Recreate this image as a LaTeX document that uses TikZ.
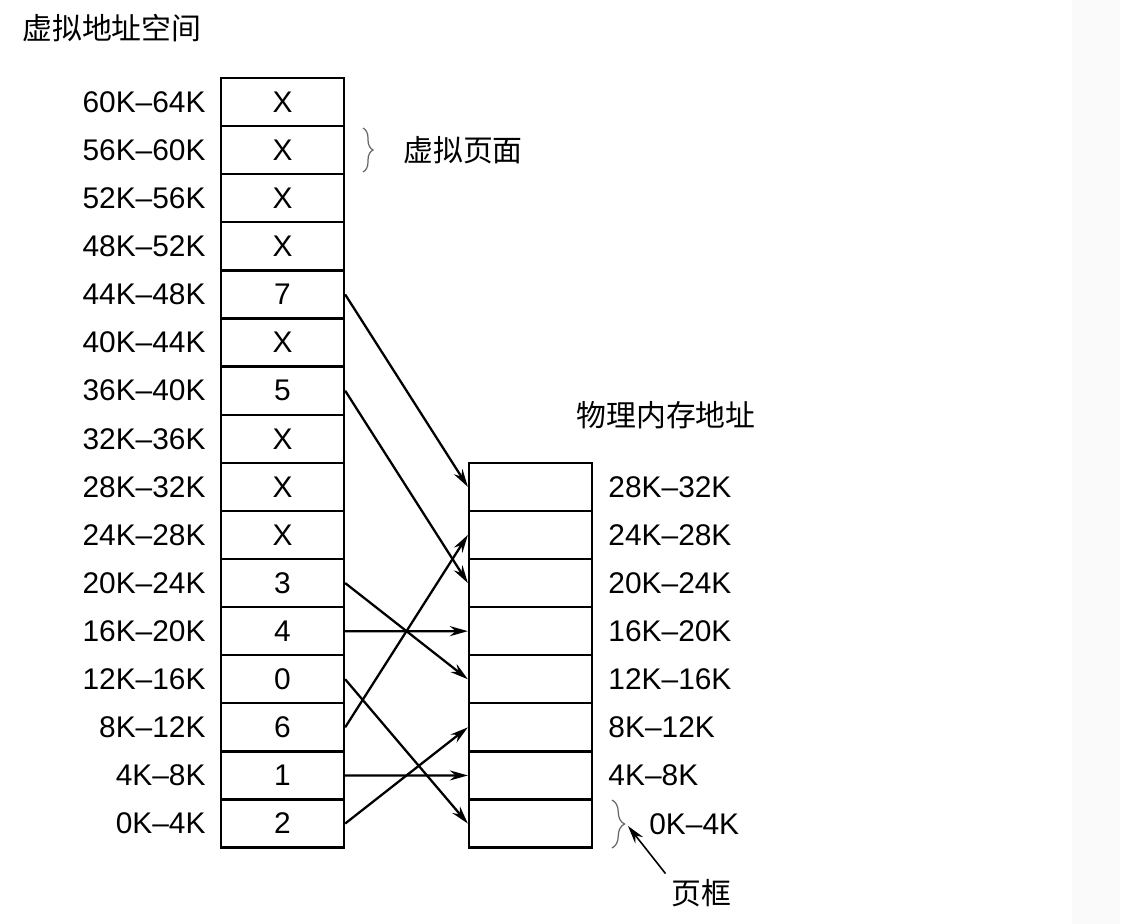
\documentclass[tikz,border=0pt]{standalone}
\usepackage{fontspec}
\setmainfont{Liberation Sans}
\newfontfamily\cjk{Noto Sans CJK SC}
\usetikzlibrary{positioning,arrows.meta,decorations.pathreplacing}

\begin{document}
\begin{tikzpicture}[
    >={Stealth[length=3.6mm,width=2mm]},
    cell/.style={rectangle, draw, line width=1.3pt, minimum width=2.46cm, minimum height=0.962cm, inner sep=0pt, font=\fontsize{17}{20}\selectfont},
    addr/.style={inner sep=0pt, font=\fontsize{17}{20}\selectfont},
    title/.style={inner sep=0pt, font=\cjk\fontsize{17}{20}\selectfont},
    map/.style={->, line width=1.3pt},
    brc/.style={decorate, decoration={brace, amplitude=#1}, draw=black!60, line width=0.7pt}
]
    \useasboundingbox (0,0) rectangle (22.48,-18.48);
    \fill[black!2] (21.44,0) rectangle (22.4,-18.48);

    % Virtual address space
    \node[title, anchor=west] (vtitle) at (0.44,-0.56) {虚拟地址空间};
    \foreach \c [count=\i from 0] in {X,X,X,X,7,X,5,X,X,X,3,4,0,6,1,2} {
        \pgfmathtruncatemacro\lo{60-4*\i}
        \pgfmathtruncatemacro\hi{64-4*\i}
        \node[cell] (v\i) at (5.65,-2.041-0.962*\i) {\c};
        \node[addr, left=0.28cm of v\i] (va\i) {\lo K–\hi K};
    }
    \draw[brc=0.2cm] (7.26,-2.56) -- (7.26,-3.44);
    \node[title, anchor=west] (vpage) at (8.06,-3.0) {虚拟页面};

    % Physical memory
    \node[title] (ptitle) at (13.32,-8.3) {物理内存地址};
    \foreach \i in {0,...,7} {
        \node[cell] (p\i) at (10.61,-9.737-0.962*\i) {};
    }
    \foreach \i in {0,...,6} {
        \pgfmathtruncatemacro\lo{28-4*\i}
        \pgfmathtruncatemacro\hi{32-4*\i}
        \node[addr, right=0.3cm of p\i] (pa\i) {\lo K–\hi K};
    }
    \draw[brc=0.25cm] (12.24,-16.0) -- (12.24,-16.96);
    \node[addr, anchor=west] (pa7) at (12.98,-16.48) {0K–4K};
    \coordinate (tip) at (12.56,-16.52);
    \node[title, inner sep=3pt] (frame) at (14.02,-17.86) {页框};
    \draw[->, line width=0.9pt] (frame.north west) -- (tip);

    % page table mapping
    \foreach \a/\b in {4/0,6/2,10/4,11/3,12/7,13/1,14/6,15/5} {
        \draw[map] (v\a.east) -- (p\b.west);
    }
\end{tikzpicture}
\end{document}
